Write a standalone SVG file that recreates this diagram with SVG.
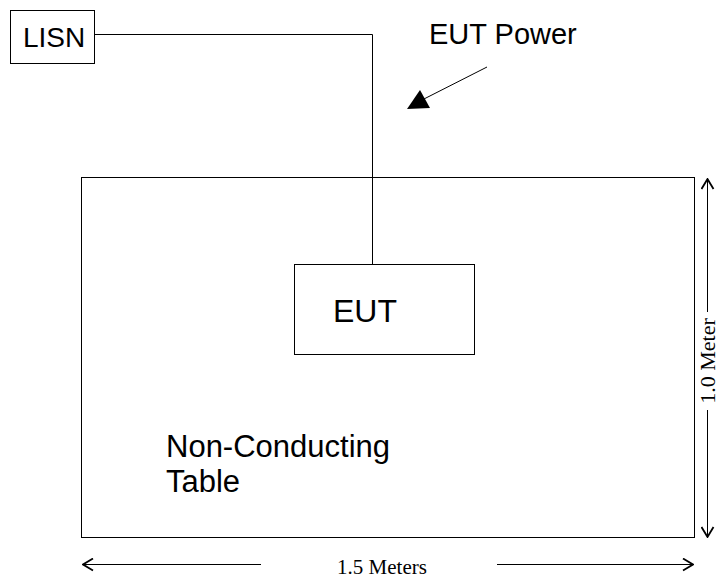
<svg xmlns="http://www.w3.org/2000/svg" width="722" height="579" viewBox="0 0 722 579">
<style>
.box{fill:#fff;stroke:#000;stroke-width:1}
.ln{fill:none;stroke:#000;stroke-width:1}
.sans{font-family:"Liberation Sans",Arial,sans-serif;fill:#000}
.serif{font-family:"Liberation Serif","Times New Roman",serif;fill:#000}
</style>
<defs>
<marker id="open" viewBox="0 0 12 14" refX="11" refY="7" markerWidth="12" markerHeight="14" markerUnits="userSpaceOnUse" orient="auto">
<path d="M1,1 L11,7 L1,13" fill="none" stroke="#000" stroke-width="1.8"/>
</marker>
</defs>
<g id="table">
<rect class="box" x="81.5" y="177.5" width="613" height="360"/>
<text class="sans" x="166" y="457" font-size="31">Non-Conducting</text>
<text class="sans" x="166" y="492" font-size="31">Table</text>
</g>
<g id="lisn">
<rect class="box" x="10.5" y="10.5" width="84" height="53"/>
<text class="sans" x="23" y="47" font-size="28">LISN</text>
</g>
<g id="eut">
<rect class="box" x="294.5" y="264.5" width="180" height="90"/>
<text class="sans" x="333" y="322" font-size="32">EUT</text>
</g>
<g id="eut-power-label">
<text class="sans" x="429" y="44" font-size="29">EUT Power</text>
</g>
<g id="connectors">
<polyline class="ln" points="94.5,34.5 372.5,34.5 372.5,264.5"/>
<line class="ln" x1="487" y1="67" x2="420" y2="101" stroke-width="1.6"/>
<polygon points="407,109 420,90 430,108" fill="#000"/>
<line class="ln" x1="707.5" y1="312" x2="707.5" y2="179" marker-end="url(#open)"/>
<line class="ln" x1="707.5" y1="410" x2="707.5" y2="537" marker-end="url(#open)"/>
<line class="ln" x1="261" y1="564.5" x2="83" y2="564.5" marker-end="url(#open)"/>
<line class="ln" x1="497" y1="564.5" x2="693" y2="564.5" marker-end="url(#open)"/>
</g>
<g id="dims">
<text class="serif" x="382" y="574" font-size="21" text-anchor="middle">1.5 Meters</text>
<text class="serif" font-size="22" text-anchor="middle" transform="translate(715,361) rotate(-90)">1.0 Meter</text>
</g>
</svg>
